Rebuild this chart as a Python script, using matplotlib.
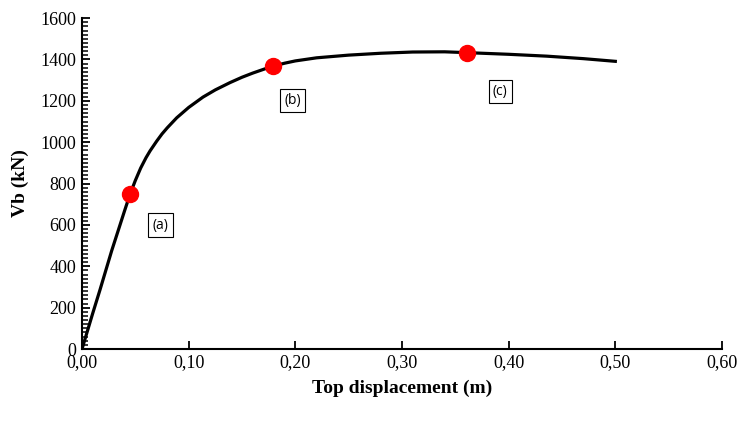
import matplotlib.pyplot as plt
from matplotlib.ticker import MultipleLocator, FuncFormatter

# pushover curve
disp = [0.0, 0.010, 0.0169, 0.0278, 0.035, 0.040, 0.045, 0.050, 0.055, 0.060,
        0.0638, 0.070, 0.075, 0.080, 0.0888, 0.100, 0.1134, 0.125, 0.1387,
        0.150, 0.160, 0.170, 0.1793, 0.190, 0.200, 0.220, 0.250, 0.280,
        0.310, 0.340, 0.3607, 0.400, 0.4357, 0.470, 0.50]
vb = [0, 172, 287, 475, 590, 670, 748, 815, 875, 925,
      958, 1005, 1040, 1070, 1118, 1168, 1218, 1253, 1288,
      1314, 1334, 1352, 1368, 1382, 1393, 1408, 1421, 1430,
      1436, 1437, 1433, 1425, 1416, 1404, 1391]

# performance points
pt_disp = [0.045, 0.1793, 0.3607]
pt_vb = [748, 1368, 1433]
pt_labels = ['(a)', '(b)', '(c)']
lab_disp = [0.0736, 0.1976, 0.392]
lab_vb = [599, 1202, 1246]

fig = plt.figure(figsize=(7.47, 4.21), dpi=100)
ax = fig.add_axes([0.1098, 0.171, 0.8567, 0.786])

ax.plot(disp, vb, color='black', linewidth=2.3, zorder=2,
        solid_joinstyle='round')
ax.plot(pt_disp, pt_vb, 'o', color='#ff0000', markersize=11.5, zorder=3)

for x, y, t in zip(lab_disp, lab_vb, pt_labels):
    ax.text(x, y, t, ha='center', va='center', fontsize=10, family='Open Sans',
            bbox=dict(boxstyle='square,pad=0.3', fc='white', ec='black', lw=0.8))

ax.set_xlim(0, 0.60)
ax.set_ylim(0, 1600)
ax.xaxis.set_major_locator(MultipleLocator(0.10))
ax.yaxis.set_major_locator(MultipleLocator(200))
ax.yaxis.set_minor_locator(MultipleLocator(20))
ax.xaxis.set_major_formatter(FuncFormatter(lambda v, p: f'{v:.2f}'.replace('.', ',')))

for s in ['top', 'right']:
    ax.spines[s].set_visible(False)
for s in ['left', 'bottom']:
    ax.spines[s].set_linewidth(1.5)

ax.tick_params(axis='both', which='major', direction='in', length=6, width=1.3,
               labelsize=13, pad=4)
ax.tick_params(axis='y', which='minor', direction='in', length=4.5, width=1.1)
for lbl in ax.get_xticklabels() + ax.get_yticklabels():
    lbl.set_family('Liberation Serif')

ax.set_xlabel('Top displacement (m)', family='Liberation Serif', fontweight='bold',
              fontsize=14, labelpad=6)
ax.set_ylabel('Vb (kN)', family='Liberation Serif', fontweight='bold',
              fontsize=14, labelpad=8)

fig.savefig('out.png', dpi=100)
